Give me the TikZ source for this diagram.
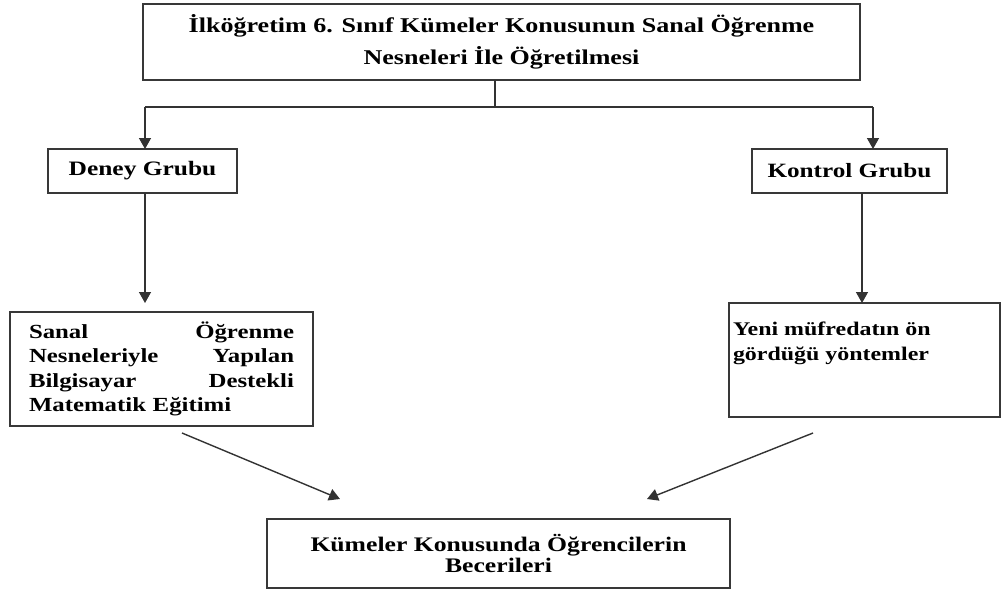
\documentclass[tikz,border=0pt]{standalone}
\usepackage{fontspec}
\setmainfont[FakeStretch=1.33, BoldFeatures={FakeStretch=1.24}]{Liberation Serif}
\usetikzlibrary{arrows.meta,calc}
\begin{document}
\begin{tikzpicture}[x=1pt,y=-1pt,
  box/.style={draw=black!78, line width=1.7pt, rectangle, inner sep=0pt, outer sep=0pt, text=black},
  conn/.style={draw=black!80, line width=1.4pt},
  arr/.style={conn, -{Triangle[length=11pt,width=12pt]}}
]
\useasboundingbox (0,0) rectangle (1001,590);

% boxes
\node[box, minimum width=717pt, minimum height=76pt, align=center,
      font=\fontsize{21}{32}\selectfont\bfseries] (title) at (501.5,42)
  {İlköğretim 6. Sınıf Kümeler Konusunun Sanal Öğrenme\\Nesneleri İle Öğretilmesi};

\node[box, minimum width=189pt, minimum height=44pt, font=\fontsize{20.5}{24}\selectfont\bfseries]
  (deney) at (142.5,171) {Deney Grubu};

\node[box, minimum width=195pt, minimum height=44pt, font=\fontsize{20.3}{24}\selectfont\bfseries]
  (kontrol) at (849.5,171) {Kontrol Grubu};

\node[box, minimum width=303pt, minimum height=114pt, text width=265pt, align=left,
      font=\fontsize{20}{24.3}\selectfont\bfseries] (sanal) at (161.5,369)
  {Sanal\hfill Öğrenme\\Nesneleriyle\hfill Yapılan\\Bilgisayar\hfill Destekli\\Matematik Eğitimi};

\node[box, anchor=north west, font=\fontsize{19.3}{25}\selectfont\bfseries] (yeni) at (729,303)
  {\parbox[c][114pt][t]{271pt}{\raggedright\hspace*{4pt}\rule{0pt}{32pt}Yeni müfredatın ön\\\hspace*{4pt}gördüğü yöntemler}};

\node[box, minimum width=463pt, minimum height=69pt, align=center,
      font=\fontsize{20.7}{21.5}\selectfont\bfseries] (kume) at (498.5,553.5)
  {Kümeler Konusunda Öğrencilerin\\Becerileri};

% connectors
\coordinate (j) at (495,107);
\coordinate (jl) at (145,107);
\coordinate (jr) at (873,107);
\coordinate (dl) at (145,303);
\coordinate (kx) at (862,0);
\coordinate (ls) at (182,433);
\coordinate (le) at (340,499);
\coordinate (rs) at (813,433);
\coordinate (re) at (647,499);

\draw[conn] (title.south -| j) -- (j);
\draw[conn] (jl) -- (jr);
\draw[arr] (jl) -- (jl |- deney.north);
\draw[arr] (jr) -- (jr |- kontrol.north);
\draw[arr] (deney.south -| dl) -- (dl);
\draw[arr] (kontrol.south -| kx) -- (yeni.north -| kx);
\draw[arr] (ls) -- (le);
\draw[arr] (rs) -- (re);
\end{tikzpicture}
\end{document}
